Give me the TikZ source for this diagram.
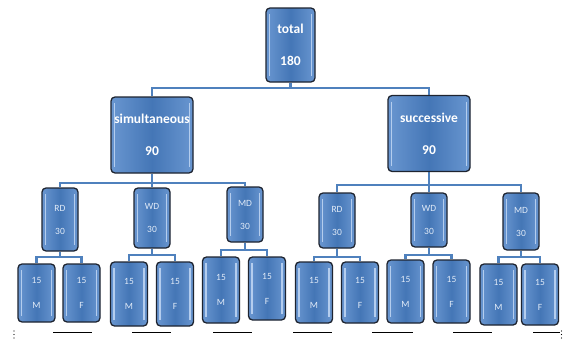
\documentclass[tikz,border=0pt]{standalone}
\usepackage{fontspec}
\setmainfont{Carlito}
\usetikzlibrary{backgrounds}
\definecolor{boxblue}{RGB}{68,118,182}
\definecolor{boxlight}{RGB}{105,150,208}
\definecolor{stripe}{RGB}{180,205,238}
\definecolor{edge}{RGB}{30,36,48}
\definecolor{conn}{RGB}{79,129,189}
\definecolor{textlight}{RGB}{225,235,248}
\begin{document}
\begin{tikzpicture}[x=1pt,y=-1pt,
  box/.style={draw=edge, line width=1.3pt, rounded corners=4pt, inner sep=0pt, align=center, text=white,
    left color=boxlight, right color=boxlight, middle color=boxblue,
    path picture={
      \draw[stripe, line width=1.2pt] ([xshift=3.5pt,yshift=-6pt]path picture bounding box.north west) -- ([xshift=3.5pt,yshift=6pt]path picture bounding box.south west);
      \draw[stripe, line width=1.2pt] ([xshift=-3.5pt,yshift=-6pt]path picture bounding box.north east) -- ([xshift=-3.5pt,yshift=6pt]path picture bounding box.south east);}},
  topbox/.style={box, minimum width=49pt, minimum height=74pt, font=\bfseries\fontsize{13.5}{32}\selectfont},
  midbox/.style={box, minimum width=82pt, minimum height=76pt, font=\bfseries\fontsize{13.5}{32}\selectfont},
  grpbox/.style={box, minimum width=36pt, minimum height=60pt, text=textlight, font=\fontsize{9.5}{23}\selectfont},
  leafbox/.style={box, minimum width=37pt, minimum height=60pt, text=textlight, font=\fontsize{9.5}{25}\selectfont},
  conn/.style={draw=conn, line width=2.7pt},
  uline/.style={draw=black, line width=0.8pt}
]
\useasboundingbox (0,0) rectangle (563,340);

% level 0 / 1
\node[topbox] (total) at (290.5,45) {total\\180};
\node[midbox] (sim) at (152,135) {simultaneous\\90};
\node[midbox] (succ) at (429,133.5) {successive\\90};

% level 2
\node[grpbox, minimum height=63pt] (rd1) at (60,219.5) {RD\\30};
\node[grpbox] (wd1) at (152,218) {WD\\30};
\node[grpbox, minimum height=55pt] (md1) at (245,214.5) {MD\\30};
\node[grpbox, minimum height=55pt] (rd2) at (337,220.5) {RD\\30};
\node[grpbox, minimum height=54pt] (wd2) at (429,220) {WD\\30};
\node[grpbox, minimum height=57pt] (md2) at (521,221.5) {MD\\30};

% leaves
\node[leafbox, minimum height=58pt] (m1) at (36.5,293) {15\\M};
\node[leafbox, minimum height=58pt] (f1) at (81.5,293) {15\\F};
\node[leafbox, minimum height=64pt] (m2) at (129,294) {15\\M};
\node[leafbox, minimum height=64pt] (f2) at (175,294) {15\\F};
\node[leafbox, minimum height=66pt] (m3) at (221,290) {15\\M};
\node[leafbox, minimum height=63pt] (f3) at (267,288.5) {15\\F};
\node[leafbox, minimum height=61pt] (m4) at (314,292.5) {15\\M};
\node[leafbox, minimum height=61pt] (f4) at (360,292.5) {15\\F};
\node[leafbox, minimum height=63pt] (m5) at (405.5,291.5) {15\\M};
\node[leafbox, minimum height=63pt] (f5) at (451.5,291.5) {15\\F};
\node[leafbox, minimum height=61pt] (m6) at (498.5,294.5) {15\\M};
\node[leafbox, minimum height=61pt] (f6) at (540,294.5) {15\\F};

\coordinate (b0) at (290.5,88);
\coordinate (b1) at (152,183);
\coordinate (b2) at (429,185);
\coordinate (c1) at (60,257);
\coordinate (c2) at (152,255);
\coordinate (c3) at (245,250);
\coordinate (c4) at (337,257);
\coordinate (c5) at (429,255);
\coordinate (c6) at (521,257);

\begin{scope}[on background layer]
  \fill[white] (0,0) rectangle (563,340);
  \draw[conn] (total.south) -- (b0) -| (sim.north);
  \draw[conn] (b0) -| (succ.north);
  \draw[conn] (sim.south) -- (b1) -| (rd1.north);
  \draw[conn] (b1) -| (md1.north);
  \draw[conn] (b1) -- (wd1.north);
  \draw[conn] (succ.south) -- (b2) -| (rd2.north);
  \draw[conn] (b2) -| (md2.north);
  \draw[conn] (b2) -- (wd2.north);
  \draw[conn] (rd1.south) -- (c1) -| (m1.north);
  \draw[conn] (c1) -| (f1.north);
  \draw[conn] (wd1.south) -- (c2) -| (m2.north);
  \draw[conn] (c2) -| (f2.north);
  \draw[conn] (md1.south) -- (c3) -| (m3.north);
  \draw[conn] (c3) -| (f3.north);
  \draw[conn] (rd2.south) -- (c4) -| (m4.north);
  \draw[conn] (c4) -| (f4.north);
  \draw[conn] (wd2.south) -- (c5) -| (m5.north);
  \draw[conn] (c5) -| (f5.north);
  \draw[conn] (md2.south) -- (c6) -| (m6.north);
  \draw[conn] (c6) -| (f6.north);
\end{scope}

% underlines
\draw[uline] (53,332) -- (92,332);
\draw[uline] (132,332) -- (171,332);
\draw[uline] (213,332) -- (252,332);
\draw[uline] (293,332) -- (332,332);
\draw[uline] (372,332) -- (413,332);
\draw[uline] (453,332) -- (492,332);
\draw[uline] (533,332) -- (560,332);

% small dot marks
\foreach \yy in {331,334.5,338} {
  \fill[black] (14,\yy) circle (0.6pt);
  \fill[black] (561.5,\yy) circle (0.6pt);
}
\end{tikzpicture}
\end{document}
